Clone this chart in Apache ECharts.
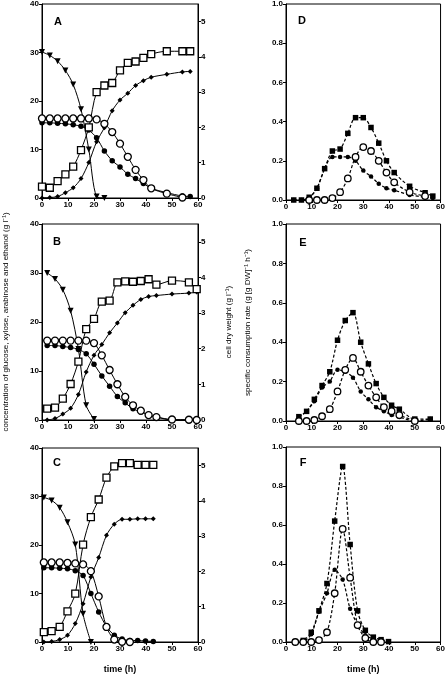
<!DOCTYPE html>
<html><head><meta charset="utf-8">
<script src="https://cdn.jsdelivr.net/npm/echarts@6/dist/echarts.min.js"></script>
<style>html,body{margin:0;padding:0;background:#fff}#c{width:448px;height:675px}</style>
</head><body><div id="c"></div>
<script>
// ---------- tick labels ----------
const xTicks = [0,10,20,30,40,50,60];
const concTicks = [0,10,20,30,40];
const cdwTicks = [0,1,2,3,4,5];
const rateTicks = [0,0.2,0.4,0.6,0.8,1.0];

// ---------- panel A ----------
const tA = [0,3,6,9,12,15,18,21,24,27,30,33,36,39,42,48,54,57];
const glucA = [30.1,29.4,28.2,26.3,23.4,18.3,10.0,0.3,0];
const xylA  = [16.4,16.4,16.4,16.4,16.4,16.4,16.4,16.2,15.3,13.6,11.2,8.5,5.8,3.7,2.0,0.9,0.1];
const araA  = [15.5,15.5,15.4,15.3,15.1,14.8,14.0,12.4,9.7,7.7,6.4,4.9,4.0,3.0,2.0,1.1,0.4,0.3];
const ethA  = [0,0.1,0.3,1.1,2.1,4.0,7.3,11.6,14.5,18.0,20.2,21.6,23.2,24.2,24.9,25.5,26.0,26.1];
const cdwA  = [0.32,0.29,0.48,0.67,0.89,1.36,2.0,3.0,3.19,3.26,3.62,3.83,3.87,3.97,4.08,4.16,4.16,4.16];

// ---------- panel B ----------
const tB = [2,5,8,11,14,17,20,23,26,29,32,35,38,41,44,50,56.5,59.5];
const glucB = [30.0,28.8,26.6,22.3,14.5,3.0,0.2];
const xylB  = [16.2,16.2,16.2,16.2,16.2,16.2,15.7,13.2,10.2,7.3,4.7,3.0,1.9,1.0,0.6,0.1,0.05,0];
const araB  = [15.2,15.2,15.0,14.8,14.4,13.5,11.4,9.0,6.9,4.8,3.5,2.3,1.6,1.0,0.6,0,0,0];
const ethB  = [0,0.3,1.2,2.4,5.2,9.8,13.2,15.4,17.8,19.8,21.9,23.4,24.6,25.2,25.4,25.7,25.9,26.1];
const cdwB  = [0.32,0.35,0.6,1.01,1.64,2.55,2.84,3.32,3.35,3.86,3.89,3.88,3.90,3.95,3.80,3.91,3.86,3.67];

// ---------- panel C ----------
const tC = [0.7,3.7,6.8,9.8,12.8,15.8,18.8,21.8,24.8,27.8,30.8,33.8,36.8,39.8,42.8];
const glucC = [29.8,29.2,27.7,24.7,20.1,5.8,0];
const xylC  = [16.4,16.4,16.4,16.3,16.2,16.0,14.6,9.4,3.1,0.5,0.05,0];
const araC  = [15.3,15.3,15.2,15.1,14.7,13.7,10.0,6.2,3.2,1.4,0.6,0.3,0.3,0.2,0.1];
const ethC  = [0,0.1,0.5,1.4,3.8,7.9,13.4,17.4,22.0,24.3,25.3,25.3,25.4,25.4,25.4];
const cdwC  = [0.28,0.31,0.43,0.87,1.37,2.76,3.54,4.04,4.66,4.98,5.07,5.07,5.02,5.02,5.02];

// ---------- panel D ----------
const tD = [3,6,9,12,15,18,21,24,27,30,33,36,39,42,48,54,57];
const totD = [0,0,0.014,0.06,0.16,0.25,0.26,0.34,0.42,0.42,0.37,0.29,0.20,0.14,0.07,0.037,0.02];
const xylRD = [null,null,0,0,0,0.01,0.04,0.11,0.22,0.27,0.25,0.20,0.14,0.09,0.04,0.02];
const araRD = [0,0,0.01,0.06,0.16,0.22,0.22,0.22,0.20,0.15,0.12,0.083,0.06,0.05,0.026,0.015,0.01];

// ---------- panel E ----------
const tE = [5,8,11,14,17,20,23,26,29,32,35,38,41,44,50,56];
const totE = [0.022,0.049,0.11,0.18,0.25,0.41,0.51,0.55,0.40,0.29,0.19,0.12,0.08,0.06,0.01,0.01];
const xylRE = [0,0,0.005,0.024,0.06,0.15,0.26,0.32,0.25,0.18,0.12,0.07,0.05,0.03,0.0];
const araRE = [0.02,0.05,0.10,0.17,0.20,0.26,0.25,0.22,0.15,0.11,0.07,0.05,0.03,0.02,0,0.01];

// ---------- panel F ----------
const tF = [3.6,6.7,9.8,12.8,15.9,18.9,22,24.9,27.8,30.8,33.9,36.9,39.8];
const totF = [0,0.008,0.05,0.16,0.30,0.62,0.90,0.50,0.16,0.06,0.025,0.012,0.002];
const xylRF = [0,0,0,0.01,0.05,0.25,0.58,0.33,0.087,0.02,0,0];
const araRF = [0,0.003,0.04,0.155,0.25,0.37,0.32,0.17,0.09,0.035,0.015,0.005];

function pairs(t, v){ const out=[]; for(let i=0;i<v.length;i++){ if(v[i]!=null) out.push([t[i],v[i]]); } return out; }

const FONT = 'Liberation Sans, Arial, sans-serif';
const lab = {fontSize:8, fontWeight:'bold', color:'#000', fontFamily:FONT, margin:3};
const aLine = {show:true, onZero:false, lineStyle:{color:'#000', width:1}};
const aTick = {show:true, inside:false, length:3, lineStyle:{color:'#000', width:1}};

const leftGrids = [
  {left:42, top:4, width:156, height:194},
  {left:42, top:224, width:156, height:196},
  {left:42, top:448, width:156, height:194}
];
const rightGrids = [
  {left:286, top:4, width:157, height:196},
  {left:286, top:224, width:157, height:197},
  {left:286, top:447, width:157, height:197}
];
const grids = leftGrids.concat(rightGrids).map(g => Object.assign({show:true, borderColor:'#000', borderWidth:1, backgroundColor:'transparent'}, g));

const xAxes = grids.map((g,i) => ({
  type:'value', gridIndex:i, min:0, max:60, interval:10,
  axisLine:aLine, axisTick:Object.assign({}, aTick, {customValues:xTicks}),
  axisLabel:Object.assign({}, lab, {customValues:xTicks}), splitLine:{show:false},
  name:(i===2||i===5)?'time (h)':'', nameLocation:'middle', nameGap:23,
  nameTextStyle:{fontSize:9, fontWeight:'bold', color:'#000', fontFamily:FONT}
}));

const yAxes = [];
for(let i=0;i<3;i++){
  yAxes.push({type:'value', gridIndex:i, position:'left', min:0, max:40, interval:10,
    axisLine:aLine, axisTick:Object.assign({}, aTick, {customValues:concTicks}),
    axisLabel:Object.assign({}, lab, {customValues:concTicks}), splitLine:{show:false}});
  yAxes.push({type:'value', gridIndex:i, position:'right', min:0, max:5.5, interval:1,
    axisLine:aLine, axisTick:Object.assign({}, aTick, {customValues:cdwTicks}),
    axisLabel:Object.assign({}, lab, {customValues:cdwTicks}), splitLine:{show:false},
    name: i===1 ? 'cell dry weight (g l\u207B\u00B9)' : '', nameLocation:'middle', nameRotate:90, nameGap:27,
    nameTextStyle:{fontSize:8, color:'#000', fontFamily:FONT, padding:[0,0,20,0]}});
}
for(let i=0;i<3;i++){
  yAxes.push({type:'value', gridIndex:3+i, position:'left', min:0, max:1, interval:0.2,
    axisLine:aLine, axisTick:Object.assign({}, aTick, {customValues:rateTicks}),
    axisLabel:Object.assign({}, lab, {customValues:rateTicks, formatter:v=>v.toFixed(1)}), splitLine:{show:false},
    name: i===1 ? 'specific consumption rate (g [g DW]\u207B\u00B9 h\u207B\u00B9)' : '', nameLocation:'middle', nameRotate:90, nameGap:34,
    nameTextStyle:{fontSize:8, color:'#000', fontFamily:FONT}});
}

const series = [];
function solid(xi, yi, data, sym){
  series.push(Object.assign({type:'line', xAxisIndex:xi, yAxisIndex:yi, data:data, smooth:0.3,
    lineStyle:{color:'#000', width:1}, showSymbol:true, animation:false, z:3}, sym));
}
function dashed(xi, yi, data, sym){
  series.push(Object.assign({type:'line', xAxisIndex:xi, yAxisIndex:yi, data:data, smooth:0.3,
    lineStyle:{color:'#000', width:1.2, type:[3,2]}, showSymbol:true, animation:false, z:3}, sym));
}
const symTri = {symbol:'triangle', symbolRotate:180, symbolSize:6, itemStyle:{color:'#000'}};
const symOpenC = {symbol:'circle', symbolSize:7, itemStyle:{color:'#fff', borderColor:'#000', borderWidth:1.3}};
const symFillC = {symbol:'circle', symbolSize:5.5, itemStyle:{color:'#000'}};
const symDia = {symbol:'diamond', symbolSize:5, itemStyle:{color:'#000'}};
const symOpenS = {symbol:'rect', symbolSize:7, itemStyle:{color:'#fff', borderColor:'#000', borderWidth:1.3}};

const leftData = [
  [tA, glucA, xylA, araA, ethA, cdwA],
  [tB, glucB, xylB, araB, ethB, cdwB],
  [tC, glucC, xylC, araC, ethC, cdwC]
];
leftData.forEach((d,i) => {
  const t = d[0];
  solid(i, 2*i, pairs(t,d[4]), symDia);
  solid(i, 2*i, pairs(t,d[1]), symTri);
  solid(i, 2*i, pairs(t,d[3]), symFillC);
  solid(i, 2*i, pairs(t,d[2]), symOpenC);
  solid(i, 2*i+1, pairs(t,d[5]), symOpenS);
});

const symFillS = {symbol:'rect', symbolSize:5.5, itemStyle:{color:'#000'}};
const symOpenC2 = {symbol:'circle', symbolSize:6.5, itemStyle:{color:'#fff', borderColor:'#000', borderWidth:1.3}};
const symFillC2 = {symbol:'circle', symbolSize:4.5, itemStyle:{color:'#000'}};
const rightData = [
  [tD, totD, xylRD, araRD],
  [tE, totE, xylRE, araRE],
  [tF, totF, xylRF, araRF]
];
rightData.forEach((d,i) => {
  const t = d[0];
  dashed(3+i, 6+i, pairs(t,d[3]), symFillC2);
  dashed(3+i, 6+i, pairs(t,d[1]), symFillS);
  dashed(3+i, 6+i, pairs(t,d[2]), symOpenC2);
});

const letters = [['A',58,22],['B',57,242],['C',57,463],['D',302,21],['E',303,243],['F',303,463]];
const graphic = letters.map(l => ({type:'text', x:l[1], y:l[2], style:{text:l[0], fontSize:11, fontWeight:'bold', fill:'#000', font:'bold 11px Liberation Sans', align:'center', verticalAlign:'middle'}}));
graphic.push({type:'text', x:6, y:322, rotation:Math.PI/2,
  style:{text:'concentration of glucose, xylose, arabinose and ethanol (g l\u207B\u00B9)', font:'8px Liberation Sans', fill:'#000', align:'center', verticalAlign:'middle'}});

const chart = echarts.init(document.getElementById('c'), null, {renderer:'canvas'});
chart.setOption({
  animation:false,
  backgroundColor:'#fff',
  grid:grids, xAxis:xAxes, yAxis:yAxes, series:series, graphic:graphic
});
</script></body></html>
